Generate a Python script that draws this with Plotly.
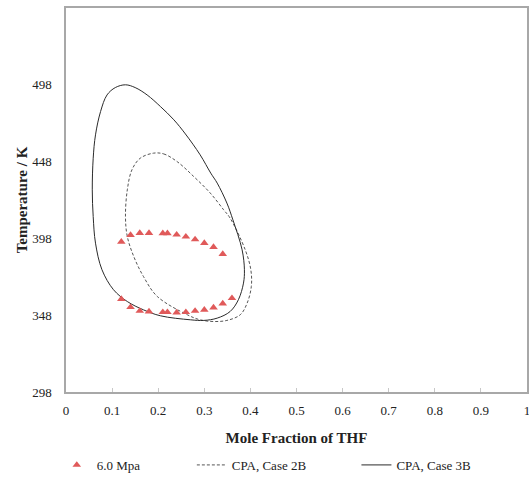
import plotly.graph_objects as go

# Experimental points at 6.0 MPa (upper and lower branches)
exp_x_upper = [0.12, 0.14, 0.16, 0.18, 0.21, 0.22, 0.24, 0.26, 0.28, 0.30, 0.32, 0.34]
exp_t_upper = [395.8, 400.2, 401.5, 401.5, 401.3, 401.3, 400.4, 399.1, 397.3, 395.0, 392.4, 387.8]
exp_x_lower = [0.12, 0.14, 0.16, 0.18, 0.21, 0.22, 0.24, 0.26, 0.28, 0.30, 0.32, 0.34, 0.36]
exp_t_lower = [358.5, 353.2, 350.8, 350.4, 350.0, 350.0, 349.7, 350.0, 350.8, 351.5, 353.0, 355.6, 359.1]

# CPA, Case 2B envelope (closed loop)
case2b_x = [0.190, 0.212, 0.241, 0.277, 0.313, 0.342, 0.356, 0.389, 0.401, 0.402, 0.393,
            0.378, 0.349, 0.320, 0.291, 0.263, 0.198, 0.168, 0.147, 0.133, 0.129, 0.133,
            0.143, 0.161, 0.190]
case2b_t = [453.5, 453.0, 448.0, 438.3, 427.5, 416.6, 411.2, 390.4, 377.4, 366.7, 355.9,
            348.3, 344.6, 343.9, 345.0, 348.3, 360.2, 373.2, 386.2, 399.2, 412.2, 429.6,
            442.6, 450.2, 453.5]

# CPA, Case 3B envelope (closed loop)
case3b_x = [0.129, 0.150, 0.176, 0.205, 0.234, 0.259, 0.291, 0.314, 0.328, 0.349, 0.362,
            0.382, 0.387, 0.385, 0.374, 0.356, 0.328, 0.299, 0.270, 0.205, 0.168, 0.133,
            0.103, 0.078, 0.064, 0.059, 0.057, 0.059, 0.064, 0.075, 0.089, 0.107, 0.129]
case3b_t = [498.0, 496.2, 491.4, 483.8, 475.2, 466.0, 452.4, 440.5, 434.0, 421.0, 410.1,
            390.6, 377.6, 368.9, 358.1, 350.4, 346.1, 344.6, 345.0, 347.6, 351.5, 356.9,
            364.6, 377.6, 394.9, 412.2, 429.6, 450.2, 465.4, 480.6, 491.4, 496.2, 498.0]

x_ticks = [0, 0.1, 0.2, 0.3, 0.4, 0.5, 0.6, 0.7, 0.8, 0.9, 1]
x_tick_text = ["0", "0.1", "0.2", "0.3", "0.4", "0.5", "0.6", "0.7", "0.8", "0.9", "1"]
y_ticks = [298, 348, 398, 448, 498]

SERIF = "Liberation Serif"

fig = go.Figure()

exp_x = exp_x_upper + [None] + exp_x_lower
exp_t = exp_t_upper + [None] + exp_t_lower

fig.add_trace(go.Scatter(
    x=case2b_x, y=case2b_t, mode="lines", name="CPA, Case 2B",
    line=dict(color="#555555", width=1, dash="3px,2px", shape="spline", smoothing=1.0),
    legend="legend2",
))
fig.add_trace(go.Scatter(
    x=case3b_x, y=case3b_t, mode="lines", name="CPA, Case 3B",
    line=dict(color="#2b2b2b", width=1, shape="spline", smoothing=1.0),
    legend="legend3",
))
fig.add_trace(go.Scatter(
    x=exp_x, y=exp_t, mode="markers", name="6.0 Mpa",
    marker=dict(symbol="triangle-up", size=7.5, color="#e05a5a"),
    legend="legend",
))

legend_common = dict(
    orientation="h", yanchor="middle", y=-0.19, xanchor="left",
    font=dict(family=SERIF, size=13, color="#222222"),
    bgcolor="rgba(0,0,0,0)", itemwidth=30, tracegroupgap=0,
)

fig.update_layout(
    width=529, height=478,
    margin=dict(l=66, r=2, t=8, b=86, autoexpand=False),
    paper_bgcolor="white", plot_bgcolor="white",
    font=dict(family=SERIF, size=12, color="#222222"),
    showlegend=True,
    legend=dict(legend_common, x=-0.02),
    legend2=dict(legend_common, x=0.273),
    legend3=dict(legend_common, x=0.63),
    xaxis=dict(
        range=[0, 1], tickvals=x_ticks, ticktext=x_tick_text,
        showgrid=False, zeroline=False, automargin=False,
        showline=True, linecolor="#a8a8a8", linewidth=1.5, mirror=True,
        ticks="inside", ticklen=4, tickcolor="#c8c8c8", tickwidth=1,
        ticklabelstandoff=6, ticklabeloverflow="allow",
        tickfont=dict(family=SERIF, size=13, color="#222222"),
        title=dict(text="<b>Mole Fraction of THF</b>", standoff=15,
                   font=dict(family=SERIF, size=15, color="#222222")),
    ),
    yaxis=dict(
        range=[298, 548], tickvals=y_ticks,
        showgrid=False, zeroline=False, automargin=False,
        showline=True, linecolor="#a8a8a8", linewidth=1.5, mirror=True,
        ticks="", ticklabelstandoff=10,
        tickfont=dict(family=SERIF, size=13, color="#222222"),
        title=dict(text="<b>Temperature / K</b>", standoff=1,
                   font=dict(family=SERIF, size=15, color="#222222")),
    ),
)

fig.write_html("out.html")
